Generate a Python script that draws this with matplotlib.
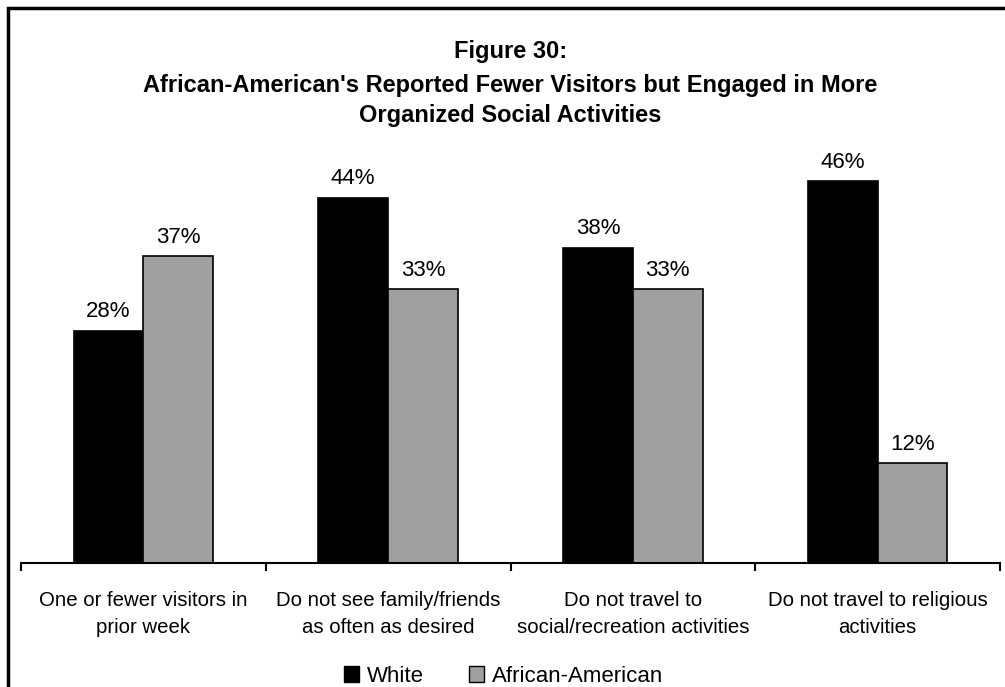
import numpy as np
import matplotlib.pyplot as plt
from matplotlib.patches import Rectangle, Patch

plt.rcParams['font.family'] = ['Liberation Sans', 'DejaVu Sans']

# 数据
categories = [
    'One or fewer visitors in\nprior week',
    'Do not see family/friends\nas often as desired',
    'Do not travel to\nsocial/recreation activities',
    'Do not travel to religious\nactivities',
]
white = [28, 44, 38, 46]
african_american = [37, 33, 33, 12]

title_lines = [
    "Figure 30:",
    "African-American's Reported Fewer Visitors but Engaged in More",
    "Organized Social Activities",
]

fig = plt.figure(figsize=(10.05, 6.87), dpi=100)
ax = fig.add_axes([21 / 1005, 1 - 563 / 687, 979 / 1005, 415 / 687])

x = np.arange(len(categories))
w = 0.285
b1 = ax.bar(x - w / 2, white, w, color='black', edgecolor='black', linewidth=1.2, label='White')
b2 = ax.bar(x + w / 2, african_american, w, color='#a0a0a0', edgecolor='black', linewidth=1.2,
            label='African-American')

for bars, vals in [(b1, white), (b2, african_american)]:
    for bar, v in zip(bars, vals):
        ax.annotate(f'{v}%', (bar.get_x() + bar.get_width() / 2, v),
                    xytext=(0, 6), textcoords='offset points',
                    ha='center', va='bottom', fontsize=16)

ax.set_xlim(-0.5, len(categories) - 0.5)
ax.set_ylim(0, 50)
ax.set_yticks([])
for s in ['left', 'right', 'top']:
    ax.spines[s].set_visible(False)
ax.spines['bottom'].set_linewidth(1.5)

# 分组边界刻度 + 类别标签
ax.set_xticks(np.arange(-0.5, len(categories), 1.0))
ax.set_xticklabels([])
ax.tick_params(axis='x', which='major', direction='out', length=6, width=1.5)
ax.set_xticks(x, minor=True)
ax.set_xticklabels(categories, minor=True, fontsize=14.7, linespacing=1.55)
ax.tick_params(axis='x', which='minor', length=0, pad=20)

# 标题（逐行按基线放置）
for line, base in zip(title_lines, [58, 92, 122]):
    fig.text(0.508, 1 - base / 687, line, ha='center', va='baseline',
             fontsize=17, fontweight='bold')

handles = [Patch(facecolor='black', edgecolor='black'),
           Patch(facecolor='#a0a0a0', edgecolor='black')]
fig.legend(handles, ['White', 'African-American'], loc='upper center',
           bbox_to_anchor=(0.501, 1 - 657 / 687), ncol=2, frameon=False,
           fontsize=16, handlelength=0.7, handleheight=0.7,
           handletextpad=0.35, columnspacing=2.0, borderaxespad=0)

# 外框
fig.patches.append(Rectangle((8 / 1005, -0.05), 1.1, 1 - 8 / 687 + 0.05,
                             transform=fig.transFigure, fill=False,
                             edgecolor='black', linewidth=2.5))

fig.savefig('out.png', dpi=100)
